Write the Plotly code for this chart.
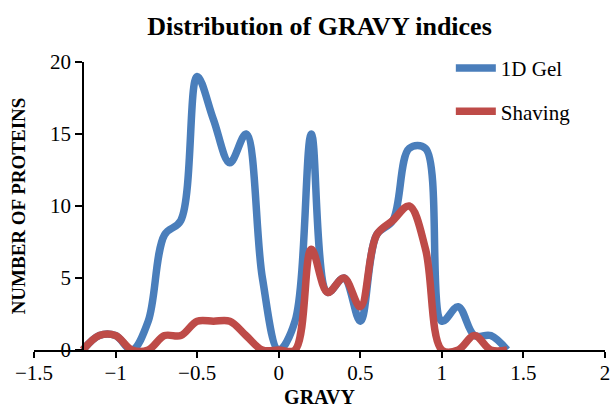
import plotly.graph_objects as go

gravy = [-1.2, -1.1, -1.0, -0.9, -0.8, -0.7, -0.6, -0.5, -0.4, -0.3, -0.2, -0.1,
         0.0, 0.1, 0.2, 0.3, 0.4, 0.5, 0.6, 0.7, 0.8, 0.9, 1.0, 1.1, 1.2, 1.3, 1.4]
gel_1d = [0, 1, 1, 0, 2, 8, 9, 19, 16, 13, 15, 5, 0, 2, 15, 4, 5, 2, 8, 9, 14, 14, 2, 3, 1, 1, 0]
shaving = [0, 1, 1, 0, 0, 1, 1, 2, 2, 2, 1, 0, 0, 0, 7, 4, 5, 3, 8, 9, 10, 7, 0, 0, 1, 0, 0]
x_ticks = [-1.5, -1, -0.5, 0, 0.5, 1, 1.5, 2]
x_tick_labels = ["\u22121.5", "\u22121", "\u22120.5", "0", "0.5", "1", "1.5", "2"]
y_ticks = [0, 5, 10, 15, 20]

FONT = "Liberation Serif"
BLUE = "#4A7EBB"
RED = "#BE4B48"

fig = go.Figure()
fig.add_trace(go.Scatter(x=gravy, y=gel_1d, mode="lines", name="1D Gel",
                         legendgroup="a",
                         line=dict(color=BLUE, width=7.5, shape="spline", smoothing=1)))
fig.add_trace(go.Scatter(x=gravy, y=shaving, mode="lines", name="Shaving",
                         legendgroup="b",
                         line=dict(color=RED, width=7.5, shape="spline", smoothing=1)))

fig.update_layout(
    width=613, height=412,
    margin=dict(l=34, r=8, t=62, b=62, autoexpand=False),
    paper_bgcolor="white", plot_bgcolor="white",
    font=dict(family=FONT, size=21, color="black"),
    title=dict(text="<b>Distribution of GRAVY indices</b>", x=0.5, xref="paper",
               y=1 - 26 / 412, yref="container", yanchor="middle",
               font=dict(family=FONT, size=26, color="black")),
    legend=dict(x=0.73, xanchor="left", y=1.049, yanchor="top",
                font=dict(family=FONT, size=21), tracegroupgap=13,
                bgcolor="rgba(0,0,0,0)", itemwidth=40),
    xaxis=dict(range=[-1.5, 2], tickvals=x_ticks, ticktext=x_tick_labels,
               showline=True, linecolor="black", linewidth=1.5,
               ticks="outside", ticklen=6, tickcolor="black", tickwidth=1.5,
               showgrid=False, zeroline=False, automargin=False,
               tickfont=dict(size=21),
               title=dict(text="<b>GRAVY</b>", font=dict(family=FONT, size=20), standoff=6)),
    yaxis=dict(range=[0, 20], tickvals=y_ticks, anchor="free", position=49 / 571,
               showline=True, linecolor="black", linewidth=1.5,
               ticks="outside", ticklen=7, tickcolor="black", tickwidth=1.5,
               showgrid=False, zeroline=False, automargin=False,
               tickfont=dict(size=21),
               title=dict(text="<b>NUMBER OF PROTEINS</b>", font=dict(family=FONT, size=19), standoff=18)),
)
try:
    fig.update_xaxes(ticklabelstandoff=-3)
except Exception:
    pass

fig.write_html("out.html", config={"displayModeBar": False},
               post_script="document.body.style.margin='0';")
